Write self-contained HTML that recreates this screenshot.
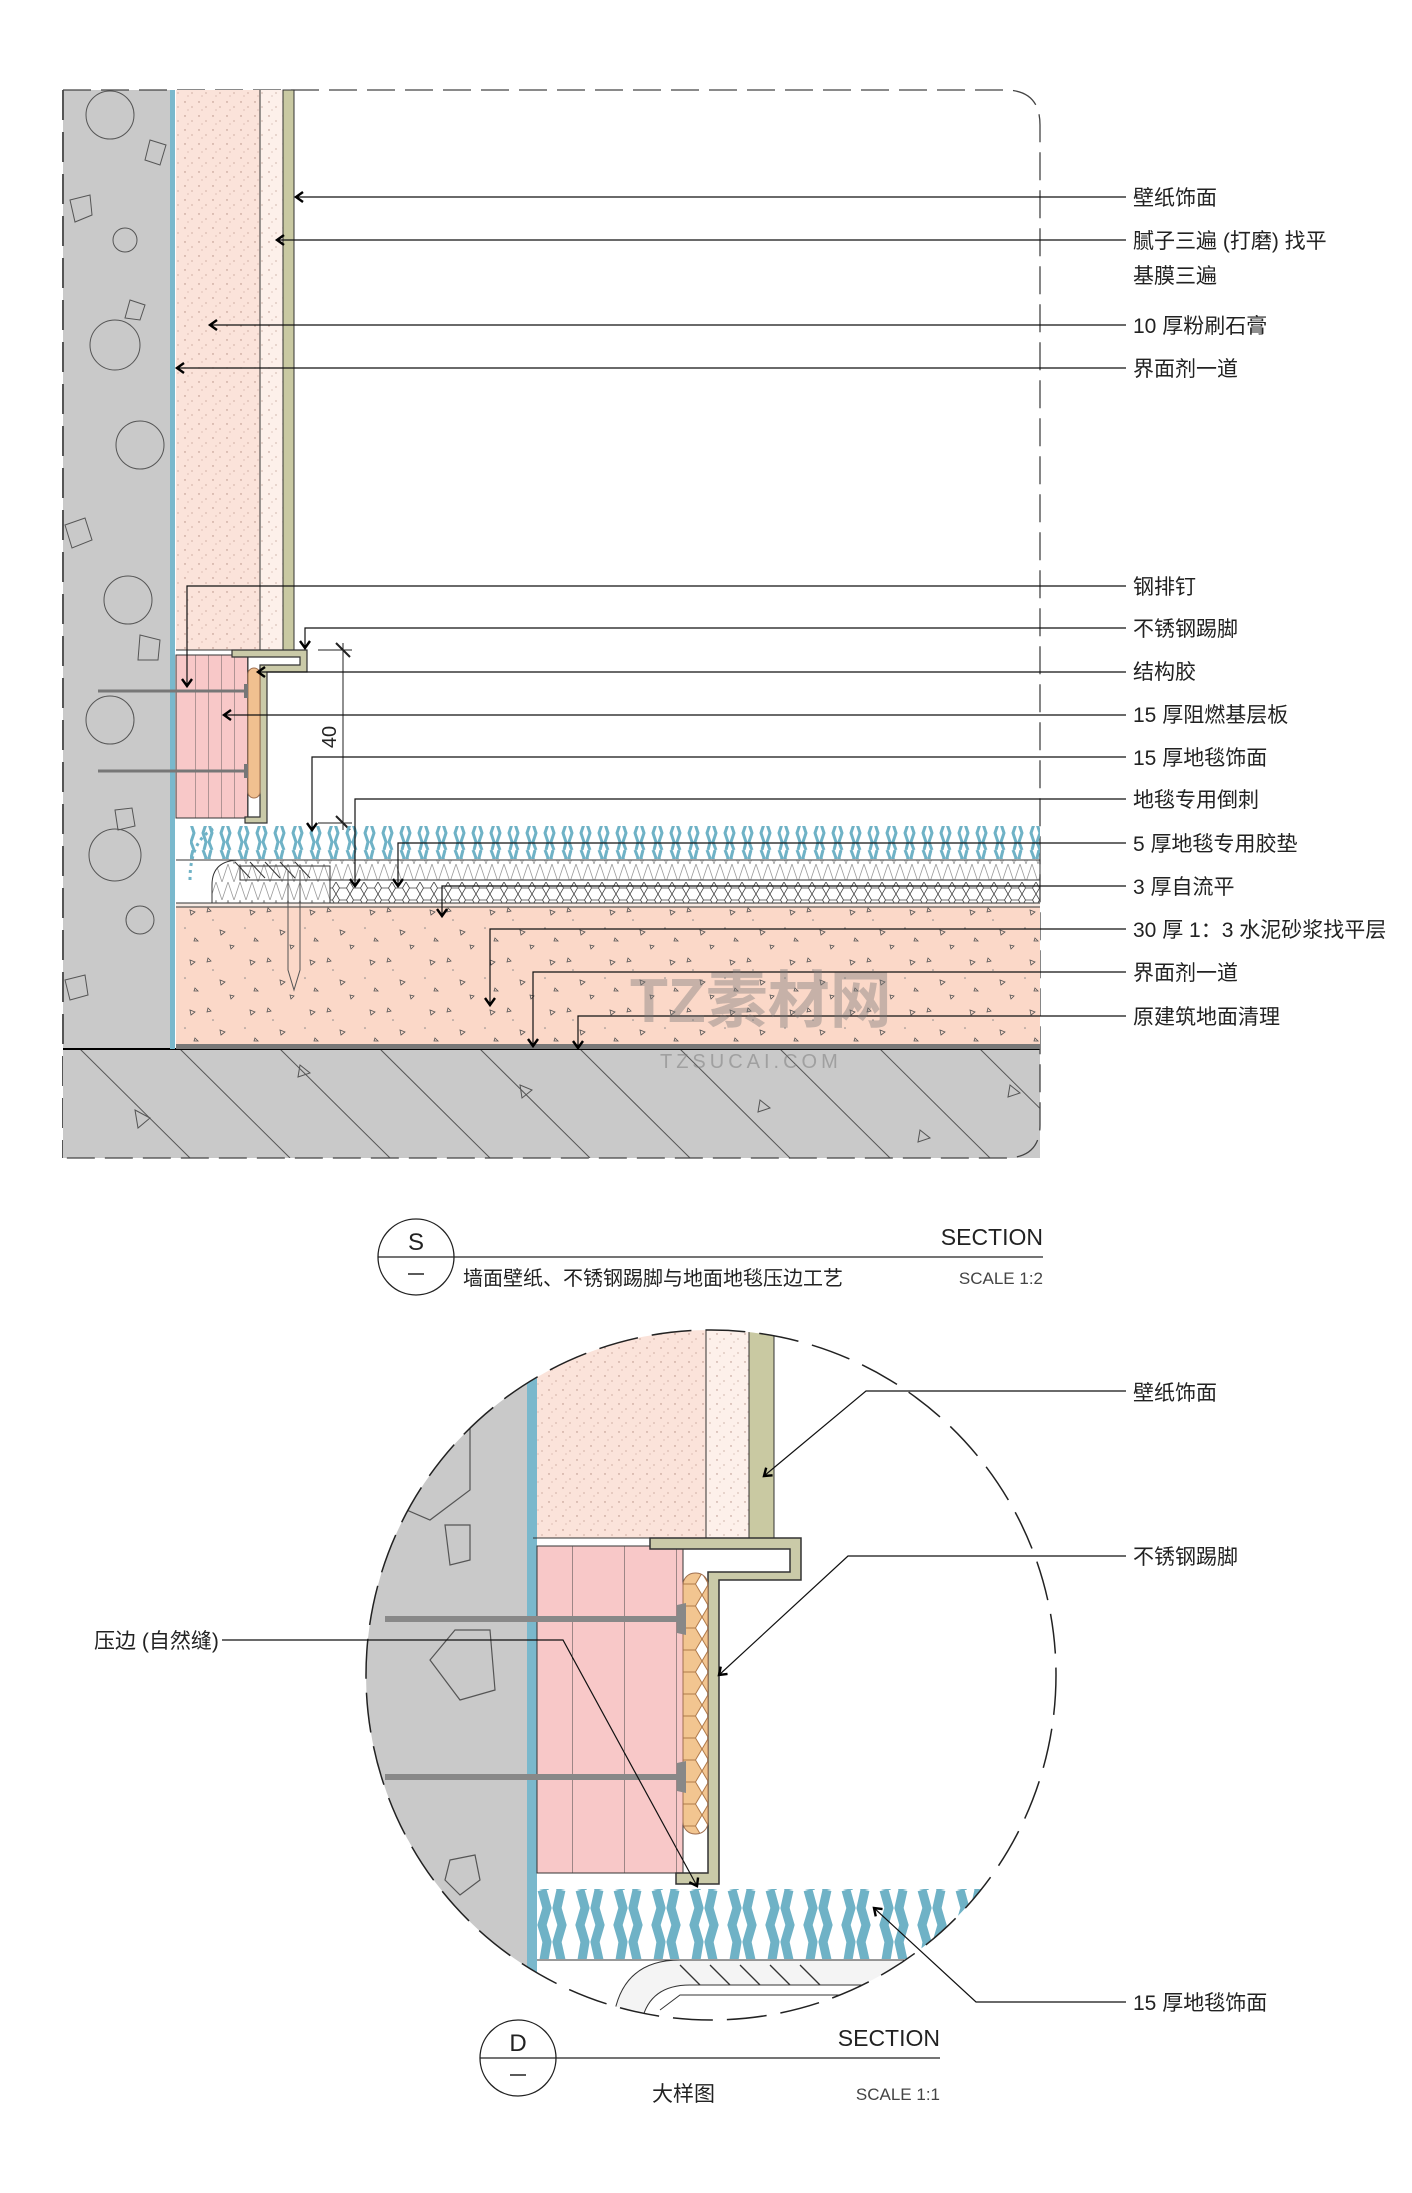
<!DOCTYPE html>
<html><head><meta charset="utf-8"><style>
html,body{margin:0;padding:0;background:#fff}
svg{display:block}
text{font-family:"Liberation Sans","Noto Sans CJK SC",sans-serif;fill:#222}
</style></head><body>
<svg width="1412" height="2193" viewBox="0 0 1412 2193" xmlns="http://www.w3.org/2000/svg">
<defs>
<pattern id="spk" width="14" height="14" patternUnits="userSpaceOnUse">
<circle cx="3" cy="4" r="0.7" fill="#b08a80"/><circle cx="10" cy="9" r="0.6" fill="#b08a80"/><circle cx="6" cy="12" r="0.5" fill="#b08a80"/>
</pattern>
<pattern id="tri" width="60" height="50" patternUnits="userSpaceOnUse">
<path d="M10 10 l5 2 l-4 3z M40 30 l5 2 l-4 3z M28 8 l3 3 l-4 1z M50 45 l4 1 l-3 3z M15 38 l3 3 l-4 0z" fill="none" stroke="#555" stroke-width="0.8"/>
<circle cx="33" cy="20" r="0.8" fill="#888"/><circle cx="5" cy="28" r="0.8" fill="#888"/>
</pattern>
<pattern id="hex" width="14" height="12" patternUnits="userSpaceOnUse">
<path d="M3.5 0 L10.5 0 L14 6 L10.5 12 L3.5 12 L0 6Z" fill="none" stroke="#444" stroke-width="0.8"/>
</pattern>
<pattern id="zig" width="12" height="18" patternUnits="userSpaceOnUse">
<path d="M0 0 L6 18 L12 0" fill="none" stroke="#999" stroke-width="0.8"/>
</pattern>
<pattern id="fib" width="18" height="34" patternUnits="userSpaceOnUse">
<path d="M5 0 l3 8 l-3 9 l3 9 l-2 8" fill="none" stroke="#6fb2c6" stroke-width="3"/>
<path d="M13 0 l-2 8 l3 9 l-3 9 l3 8" fill="none" stroke="#6fb2c6" stroke-width="3"/>
</pattern>
<pattern id="fibD" width="38" height="70" patternUnits="userSpaceOnUse">
<path d="M10 0 l5 18 l-5 17 l5 17 l-3 18" fill="none" stroke="#6fb2c6" stroke-width="9"/>
<path d="M29 0 l-4 18 l5 17 l-5 17 l4 18" fill="none" stroke="#6fb2c6" stroke-width="9"/>
</pattern>
<pattern id="vl" width="13" height="10" patternUnits="userSpaceOnUse"><line x1="0" y1="0" x2="0" y2="10" stroke="#444" stroke-width="0.8"/></pattern>
<pattern id="vlD" width="52" height="10" patternUnits="userSpaceOnUse"><line x1="0" y1="0" x2="0" y2="10" stroke="#444" stroke-width="1"/></pattern>
<pattern id="hexD" width="26" height="22" patternUnits="userSpaceOnUse">
<path d="M6.5 0 L19.5 0 L26 11 L19.5 22 L6.5 22 L0 11Z" fill="#f2c590" stroke="#b07a4a" stroke-width="1"/>
</pattern>
<clipPath id="circ"><circle cx="711" cy="1675" r="345"/></clipPath>
<clipPath id="slabc"><rect x="63" y="1049" width="977" height="109"/></clipPath>
<marker id="ar" markerWidth="12" markerHeight="12" refX="9" refY="6" orient="auto" markerUnits="userSpaceOnUse">
<path d="M2 1 L9 6 L2 11" fill="none" stroke="#000" stroke-width="2.4"/></marker>
</defs>

<rect x="63" y="90" width="107" height="959" fill="#c9c9c9"/>
<g fill="none" stroke="#555" stroke-width="1">
<circle cx="110" cy="115" r="24"/><polygon points="70,200 90,195 92,215 75,222"/><circle cx="125" cy="240" r="12"/>
<circle cx="115" cy="345" r="25"/><polygon points="130,300 145,305 140,320 125,318"/><polygon points="150,140 166,145 160,165 145,160"/>
<circle cx="140" cy="445" r="24"/><polygon points="65,525 85,518 92,540 72,548"/><circle cx="128" cy="600" r="24"/>
<circle cx="110" cy="720" r="24"/><polygon points="140,635 160,640 158,660 138,660"/><polygon points="115,810 132,808 135,826 118,830"/>
<circle cx="115" cy="855" r="26"/><circle cx="140" cy="920" r="14"/><polygon points="65,980 85,975 88,995 70,1000"/>
</g>
<line x1="63" y1="90" x2="63" y2="1158" stroke="#555" stroke-width="2" stroke-dasharray="30,12"/>
<rect x="63" y="1049" width="977" height="109" fill="#c9c9c9"/>
<g clip-path="url(#slabc)" stroke="#555" stroke-width="1">
<line x1="80" y1="1049" x2="190" y2="1158"/><line x1="180" y1="1049" x2="290" y2="1158"/><line x1="280" y1="1049" x2="390" y2="1158"/>
<line x1="380" y1="1049" x2="490" y2="1158"/><line x1="480" y1="1049" x2="590" y2="1158"/><line x1="580" y1="1049" x2="690" y2="1158"/>
<line x1="680" y1="1049" x2="790" y2="1158"/><line x1="780" y1="1049" x2="890" y2="1158"/><line x1="880" y1="1049" x2="990" y2="1158"/><line x1="980" y1="1049" x2="1090" y2="1158"/>
<path d="M135 1110 l15 8 l-12 10z M300 1065 l10 8 l-12 4z M520 1085 l12 5 l-10 8z M760 1100 l10 8 l-12 4z M920 1130 l10 8 l-12 4z M1010 1085 l10 8 l-12 4z" fill="none"/>
</g>
<line x1="63" y1="1049" x2="1040" y2="1049" stroke="#000" stroke-width="2"/>
<path d="M63 90 H1005 Q1040 90 1040 125 V1125 Q1040 1158 1005 1158 H63" fill="none" stroke="#444" stroke-width="1.3" stroke-dasharray="28,10"/>
<rect x="170" y="90" width="5" height="959" fill="#7ab8cc"/>
<rect x="176" y="90" width="84" height="560" fill="#fbe3da"/><rect x="176" y="90" width="84" height="560" fill="url(#spk)"/>
<rect x="260" y="90" width="23" height="560" fill="#fdf0ea"/><rect x="260" y="90" width="23" height="560" fill="url(#spk)"/>
<rect x="283" y="90" width="11" height="560" fill="#c9c9a2" stroke="#333" stroke-width="1"/>
<line x1="260" y1="90" x2="260" y2="650" stroke="#333"/>
<line x1="176" y1="650" x2="260" y2="650" stroke="#333"/>
<rect x="176" y="655" width="72" height="163" fill="#f8c8c8" stroke="#333"/>
<rect x="189" y="655" width="59" height="163" fill="url(#vl)"/>
<path d="M232 650 H307 V672 H267 V823 H245 V817 H260 V665 H300 V657 H232 Z" fill="#cacaa8" stroke="#333" stroke-width="1.2"/>
<rect x="248" y="668" width="12" height="130" rx="6" fill="#f0c090" stroke="#a07050"/>
<g stroke="#777" stroke-width="3"><line x1="98" y1="691" x2="246" y2="691"/><line x1="98" y1="771" x2="246" y2="771"/></g>
<g fill="#777"><rect x="244" y="684" width="4" height="14"/><rect x="244" y="764" width="4" height="14"/></g>
<g stroke="#222" stroke-width="1"><line x1="343" y1="643" x2="343" y2="830"/><line x1="318" y1="650" x2="352" y2="650"/><line x1="318" y1="823" x2="352" y2="823"/>
<line x1="336" y1="643" x2="350" y2="657" stroke-width="2"/><line x1="336" y1="816" x2="350" y2="830" stroke-width="2"/></g>
<text x="338" y="737" font-size="20" transform="rotate(-90 338 737)" text-anchor="middle" dy="-2">40</text>
<rect x="176" y="903" width="864" height="4" fill="#f6e8e0"/>
<rect x="176" y="907" width="864" height="140" fill="#fbd8c8"/><rect x="176" y="907" width="864" height="140" fill="url(#tri)"/>
<rect x="176" y="1044" width="864" height="5" fill="#777"/>
<line x1="176" y1="903" x2="1040" y2="903" stroke="#333"/>
<line x1="176" y1="907" x2="1040" y2="907" stroke="#333"/>
<rect x="330" y="882" width="710" height="21" fill="url(#hex)"/>
<path d="M240 860 H1040 V880 H330 V903 H212 V885 Q212 860 240 860Z" fill="url(#zig)" stroke="#333"/>
<path d="M240 866 H330 V880 L240 880Z" fill="none" stroke="#333"/>
<g stroke="#333" stroke-width="1"><line x1="235" y1="862" x2="250" y2="878"/><line x1="250" y1="862" x2="265" y2="878"/><line x1="265" y1="862" x2="280" y2="878"/><line x1="280" y1="862" x2="295" y2="878"/><line x1="295" y1="862" x2="310" y2="878"/></g>
<line x1="176" y1="860" x2="1040" y2="860" stroke="#333"/>
<rect x="190" y="826" width="850" height="33" fill="url(#fib)"/>
<path d="M190 880 Q190 840 215 828" fill="none" stroke="#6fb2c6" stroke-width="3" stroke-dasharray="3,4"/>
<path d="M288 870 V970 L294 990 L300 970 V870" fill="none" stroke="#555"/>

<g stroke="#111" stroke-width="1.2" fill="none" marker-end="url(#ar)">
<path d="M1126 197 H296"/><path d="M1126 240 H277"/><path d="M1126 325 H210"/><path d="M1126 368 H177"/>
<path d="M1126 586 H187 V686"/><path d="M1126 628 H305 V648"/><path d="M1126 672 H258"/><path d="M1126 715 H224"/>
<path d="M1126 757 H312 V830"/><path d="M1126 799 H355 V886"/><path d="M1126 843 H398 V886"/><path d="M1126 886 H442 V916"/>
<path d="M1126 929 H490 V1005"/><path d="M1126 972 H533 V1046"/><path d="M1126 1016 H578 V1048"/>
</g>
<g font-size="21">
<text x="1133" y="205">壁纸饰面</text><text x="1133" y="248">腻子三遍 (打磨) 找平</text><text x="1133" y="283">基膜三遍</text>
<text x="1133" y="333">10 厚粉刷石膏</text><text x="1133" y="376">界面剂一道</text>
<text x="1133" y="594">钢排钉</text><text x="1133" y="636">不锈钢踢脚</text><text x="1133" y="679">结构胶</text>
<text x="1133" y="722">15 厚阻燃基层板</text><text x="1133" y="765">15 厚地毯饰面</text><text x="1133" y="807">地毯专用倒刺</text>
<text x="1133" y="851">5 厚地毯专用胶垫</text><text x="1133" y="894">3 厚自流平</text><text x="1133" y="937">30 厚 1：3 水泥砂浆找平层</text>
<text x="1133" y="980">界面剂一道</text><text x="1133" y="1024">原建筑地面清理</text>
</g>
<text x="630" y="1022" font-size="62" font-weight="bold" style="fill:rgba(120,120,120,0.4)">TZ素材网</text>
<text x="660" y="1068" font-size="20" style="fill:rgba(120,120,120,0.5)" letter-spacing="4">TZSUCAI.COM</text>

<circle cx="416" cy="1257" r="38" fill="none" stroke="#222" stroke-width="1.3"/>
<line x1="378" y1="1257" x2="1043" y2="1257" stroke="#222" stroke-width="1.3"/>
<text x="416" y="1250" font-size="24" text-anchor="middle">S</text>
<line x1="408" y1="1274" x2="424" y2="1274" stroke="#222" stroke-width="1.5"/>
<text x="1043" y="1245" font-size="23" text-anchor="end">SECTION</text>
<text x="463" y="1285" font-size="20">墙面壁纸、不锈钢踢脚与地面地毯压边工艺</text>
<text x="1043" y="1284" font-size="17" text-anchor="end" style="fill:#444">SCALE 1:2</text>

<g clip-path="url(#circ)">
<rect x="300" y="1320" width="227" height="720" fill="#c9c9c9"/>
<g fill="none" stroke="#555" stroke-width="1.2">
<polygon points="400,1440 470,1420 470,1490 430,1520 395,1505"/><polygon points="445,1525 470,1525 470,1560 450,1565"/>
<polygon points="455,1630 490,1630 495,1690 460,1700 430,1660"/><polygon points="450,1860 475,1855 480,1880 460,1895 445,1880"/>
</g>
<rect x="527" y="1320" width="10" height="720" fill="#7ab8cc"/>
<rect x="537" y="1320" width="169" height="218" fill="#fbe3da"/><rect x="537" y="1320" width="169" height="218" fill="url(#spk)"/>
<rect x="706" y="1320" width="43" height="218" fill="#fdf0ea"/><rect x="706" y="1320" width="43" height="218" fill="url(#spk)"/>
<line x1="706" y1="1320" x2="706" y2="1538" stroke="#333"/>
<rect x="749" y="1320" width="25" height="218" fill="#c9c9a2" stroke="#333"/>
<line x1="533" y1="1538" x2="650" y2="1538" stroke="#333"/>
<rect x="537" y="1546" width="146" height="327" fill="#f8c8c8" stroke="#333"/>
<rect x="563" y="1546" width="120" height="327" fill="url(#vlD)"/>
<path d="M650 1538 H801 V1580 H719 V1884 H676 V1873 H708 V1572 H790 V1549 H650 Z" fill="#cacaa8" stroke="#333" stroke-width="1.5"/>
<rect x="683" y="1573" width="25" height="261" rx="12" fill="url(#hexD)" stroke="#a07050"/>
<g stroke="#888" stroke-width="6"><line x1="385" y1="1619" x2="678" y2="1619"/><line x1="385" y1="1777" x2="678" y2="1777"/></g>
<g fill="#888"><path d="M677 1605 L686 1603 L686 1635 L677 1633 Z"/><path d="M677 1763 L686 1761 L686 1793 L677 1791 Z"/></g>
<rect x="537" y="1889" width="560" height="70" fill="url(#fibD)"/>
<path d="M537 1960 H1100" stroke="#333"/>
<path d="M612 2040 Q612 1960 680 1960 H1100 V1985 H690 Q640 1985 640 2040" fill="#f4f4f4" stroke="#333"/>
<g stroke="#333" stroke-width="1.3"><line x1="680" y1="1965" x2="700" y2="1985"/><line x1="710" y1="1965" x2="730" y2="1985"/><line x1="740" y1="1965" x2="760" y2="1985"/><line x1="770" y1="1965" x2="790" y2="1985"/><line x1="800" y1="1965" x2="820" y2="1985"/></g>
<path d="M660 2010 L680 1995 H900 V2040" fill="none" stroke="#333"/>
</g>
<circle cx="711" cy="1675" r="345" fill="none" stroke="#222" stroke-width="1.5" stroke-dasharray="40,14"/>
<g stroke="#111" stroke-width="1.2" fill="none" marker-end="url(#ar)">
<path d="M1126 1391 H866 L764 1476"/><path d="M1126 1556 H848 L719 1675"/>
<path d="M1126 2002 H976 L874 1908"/><path d="M222 1640 H563 L697 1886"/>
</g>
<g font-size="21">
<text x="1133" y="1400">壁纸饰面</text><text x="1133" y="1564">不锈钢踢脚</text>
<text x="1133" y="2010">15 厚地毯饰面</text><text x="94" y="1648">压边 (自然缝)</text>
</g>
<circle cx="518" cy="2058" r="38" fill="none" stroke="#222" stroke-width="1.3"/>
<line x1="480" y1="2058" x2="940" y2="2058" stroke="#222" stroke-width="1.3"/>
<text x="518" y="2051" font-size="24" text-anchor="middle">D</text>
<line x1="510" y1="2075" x2="526" y2="2075" stroke="#222" stroke-width="1.5"/>
<text x="940" y="2046" font-size="23" text-anchor="end">SECTION</text>
<text x="652" y="2101" font-size="21">大样图</text>
<text x="940" y="2100" font-size="17" text-anchor="end" style="fill:#444">SCALE 1:1</text>
</svg>
</body></html>
